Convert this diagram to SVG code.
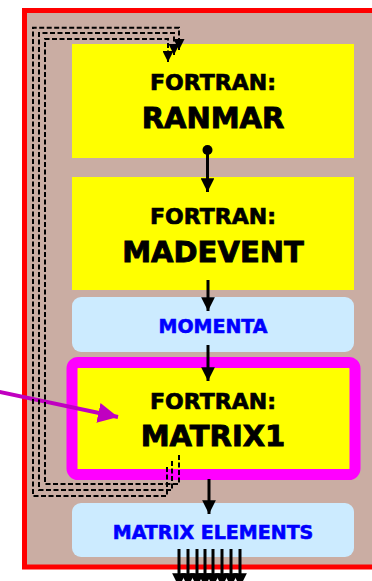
<svg xmlns="http://www.w3.org/2000/svg" width="372" height="581" viewBox="0 0 372 581">
<defs>
<style>
.box{fill:#FFFF00;}
.lb{fill:#CCEBFF;}
.t1{font-family:"DejaVu Sans",Verdana,sans-serif;font-weight:bold;font-size:22px;fill:#000;stroke:#000;stroke-width:0.7;text-anchor:middle;}
.t2{font-family:"DejaVu Sans",Verdana,sans-serif;font-weight:bold;font-size:29px;fill:#000;stroke:#000;stroke-width:0.9;text-anchor:middle;}
.tb{font-family:"DejaVu Sans",Verdana,sans-serif;font-weight:bold;font-size:19px;fill:#0000FF;stroke:#0000FF;stroke-width:0.6;text-anchor:middle;}
.ar{stroke:#000;stroke-width:3;fill:none;}
.ds{stroke:#000;stroke-width:2;fill:none;stroke-dasharray:5 2.5;}
</style>
<marker id="ah" viewBox="0 0 10 10" refX="10" refY="5" markerWidth="4.6" markerHeight="4.6" orient="auto" markerUnits="strokeWidth">
<path d="M0,0 L10,5 L0,10 z" fill="#000"/>
</marker>
<marker id="ahs" viewBox="0 0 10 10" refX="10" refY="5" markerWidth="5.5" markerHeight="5.5" orient="auto" markerUnits="strokeWidth">
<path d="M0,0 L10,5 L0,10 z" fill="#000"/>
</marker>
<marker id="ahm" viewBox="0 0 10 10" refX="10" refY="5" markerWidth="5" markerHeight="5" orient="auto" markerUnits="strokeWidth">
<path d="M0,0 L10,5 L0,10 z" fill="#C000C0"/>
</marker>
</defs>
<g id="frame">
<rect x="24.5" y="10.5" width="370" height="556.5" fill="#CAADA3" stroke="#FF0000" stroke-width="5"/>
</g>
<g id="ranmar">
<rect class="box" x="72" y="44" width="282" height="114"/>
<text class="t1" x="213" y="90">FORTRAN:</text>
<text class="t2" x="213" y="128">RANMAR</text>
</g>
<g id="madevent">
<rect class="box" x="72" y="177" width="282" height="113"/>
<text class="t1" x="213" y="224">FORTRAN:</text>
<text class="t2" x="213" y="262">MADEVENT</text>
</g>
<g id="momenta">
<rect class="lb" x="72" y="297" width="282" height="55" rx="9"/>
<text class="tb" x="213" y="333">MOMENTA</text>
</g>
<g id="matrix1">
<rect x="72" y="362.5" width="283" height="112" rx="6" fill="#FFFF00" stroke="#FF00FF" stroke-width="11"/>
<text class="t1" x="213" y="409">FORTRAN:</text>
<text class="t2" x="213" y="446">MATRIX1</text>
</g>
<g id="matrix-elements">
<rect class="lb" x="72" y="503" width="282" height="54" rx="9"/>
<text class="tb" x="213" y="539">MATRIX ELEMENTS</text>
</g>
<g id="connectors">
<circle cx="207.5" cy="150" r="5" fill="#000"/>
<line class="ar" x1="207.5" y1="150" x2="207.5" y2="192" marker-end="url(#ah)"/>
<line class="ar" x1="208" y1="280" x2="208" y2="311" marker-end="url(#ah)"/>
<line class="ar" x1="208" y1="345" x2="208" y2="381" marker-end="url(#ah)"/>
<line class="ar" x1="209" y1="479" x2="209" y2="514" marker-end="url(#ah)"/>
<line x1="-5" y1="391" x2="118" y2="417" stroke="#C000C0" stroke-width="4" marker-end="url(#ahm)"/>
<polyline class="ds" points="167,467 167,496 33,496 33,27.7 179,27.7 179,50" marker-end="url(#ahs)"/>
<polyline class="ds" points="172,461 172,490 39,490 39,33 174,33 174,55" marker-end="url(#ahs)"/>
<polyline class="ds" points="179,455 179,484 45,484 45,39 168,39 168,62" marker-end="url(#ahs)"/>
<line class="ar" x1="179" y1="549" x2="179" y2="587" marker-end="url(#ah)"/>
<line class="ar" x1="188" y1="549" x2="188" y2="587" marker-end="url(#ah)"/>
<line class="ar" x1="197" y1="549" x2="197" y2="587" marker-end="url(#ah)"/>
<line class="ar" x1="205" y1="549" x2="205" y2="587" marker-end="url(#ah)"/>
<line class="ar" x1="213" y1="549" x2="213" y2="587" marker-end="url(#ah)"/>
<line class="ar" x1="222" y1="549" x2="222" y2="587" marker-end="url(#ah)"/>
<line class="ar" x1="231" y1="549" x2="231" y2="587" marker-end="url(#ah)"/>
<line class="ar" x1="240" y1="549" x2="240" y2="587" marker-end="url(#ah)"/>
</g>
</svg>
